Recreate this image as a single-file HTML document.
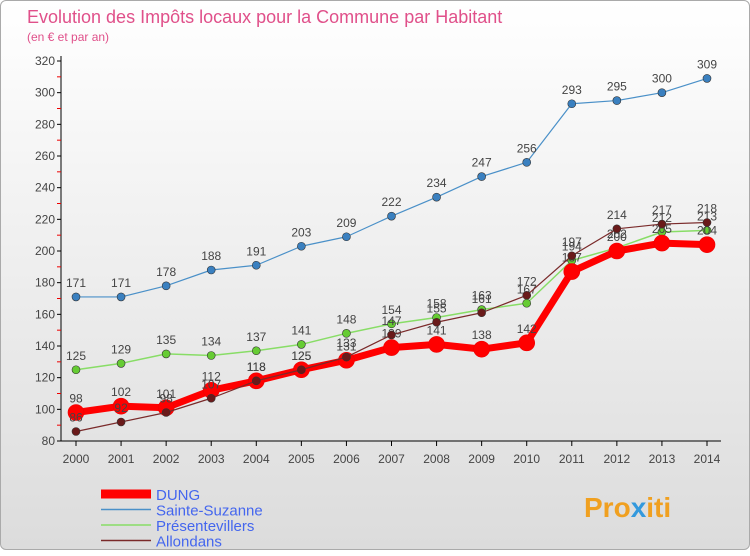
<!DOCTYPE html>
<html><head><meta charset="utf-8"><style>
body{margin:0;width:750px;height:550px;overflow:hidden;font-family:"Liberation Sans",sans-serif}
#wrap{position:absolute;left:0;top:0;width:748px;height:548px;border:1px solid #aaa;border-radius:6px;background:linear-gradient(#fff,#dcdcdc)}
</style></head><body>
<div id="wrap">
<svg id="chart" width="750" height="550">
<text x="26" y="22" font-size="18" fill="#e0508a">Evolution des Impôts locaux pour la Commune par Habitant</text>
<text x="26" y="40" font-size="12" fill="#e0508a">(en € et par an)</text>
<g id="axes"></g><g id="series"></g><g id="legend"></g>
<text x="583" y="516" font-size="28" font-weight="bold" fill="#f0a020">Pro<tspan fill="#3399dd">x</tspan>iti</text>
</svg></div>
<script>
const years=[2000,2001,2002,2003,2004,2005,2006,2007,2008,2009,2010,2011,2012,2013,2014];
const yTicks=[80,100,120,140,160,180,200,220,240,260,280,300,320];
const dung=[98,102,101,112,118,125,131,139,141,138,142,187,200,205,204];
const sainte=[171,171,178,188,191,203,209,222,234,247,256,293,295,300,309];
const presente=[125,129,135,134,137,141,148,154,158,163,167,194,202,212,213];
const allond=[86,92,98,107,118,125,133,147,155,161,172,197,214,217,218];
const names=["DUNG","Sainte-Suzanne","Présentevillers","Allondans"];
const NS="http://www.w3.org/2000/svg";
const X=i=>75+i*(706-75)/(years.length-1);
const Y=v=>440-(v-80)*380/240;
function mk(t,a,p){const e=document.createElementNS(NS,t);for(const k in a)e.setAttribute(k,a[k]);p.appendChild(e);return e;}
const ax=document.getElementById('axes');
const yl=mk('line',{x1:60,y1:55,x2:60,y2:440,stroke:'#000'},ax);


const xl=mk('line',{x1:60,y1:440,x2:720,y2:440,stroke:'#000'},ax);


yTicks.forEach((v,i)=>{
 mk('line',{x1:56,y1:Y(v),x2:60,y2:Y(v),stroke:'#000'},ax);
 if(i<yTicks.length-1)mk('line',{x1:56,y1:Y(v+10),x2:60,y2:Y(v+10),stroke:'#e00'},ax);
 const t=mk('text',{x:54,y:Y(v)+4,'font-size':12,fill:'#444','text-anchor':'end'},ax);t.textContent=v;
 
 
});
years.forEach((y,i)=>{
 mk('line',{x1:X(i),y1:440,x2:X(i),y2:445,stroke:'#000'},ax);
 const t=mk('text',{x:X(i),y:462,'font-size':12,fill:'#444','text-anchor':'middle'},ax);t.textContent=y;
 
 
});
const sg=document.getElementById('series');
const defs=[[sainte,'#4a90c8','#3a80c0',1.2,4],[presente,'#88dd66','#66cc33',1.5,4],[dung,'#ff0000','#ff0000',7,8],[allond,'#7a2a2a','#6a1a1a',1.2,4]];
const nm=['sainte-suzanne','presentevillers','dung','allondans'];
defs.forEach((d,k)=>{
 const [vals,col,dot,w,r]=d;
 const p=mk('polyline',{points:vals.map((v,i)=>X(i)+','+Y(v)).join(' '),fill:'none',stroke:col,'stroke-width':w,'stroke-linejoin':'round'},sg);
 
 
 vals.forEach((v,i)=>{
  const c=mk('circle',{cx:X(i),cy:Y(v),r:r,fill:dot,stroke:k==2?'#e00':'#333','stroke-width':0.6},sg);
  
  
  const t=mk('text',{x:X(i),y:Y(v)-10,'font-size':12,fill:'#444','text-anchor':'middle'},sg);t.textContent=v;
  
  
 });
});
const lg=document.getElementById('legend');
const lc=['#ff0000','#4a90c8','#88dd66','#7a2a2a'],lw=[9,1.5,1.5,1.5];
names.forEach((n,i)=>{
 const y=493+i*15.5;
 mk('line',{x1:100,y1:y,x2:150,y2:y,stroke:lc[i],'stroke-width':lw[i]},lg);
 const t=mk('text',{x:155,y:y+6,'font-size':15,fill:'#4466ee'},lg);t.textContent=n;
 
 
});
</script>
</body></html>
